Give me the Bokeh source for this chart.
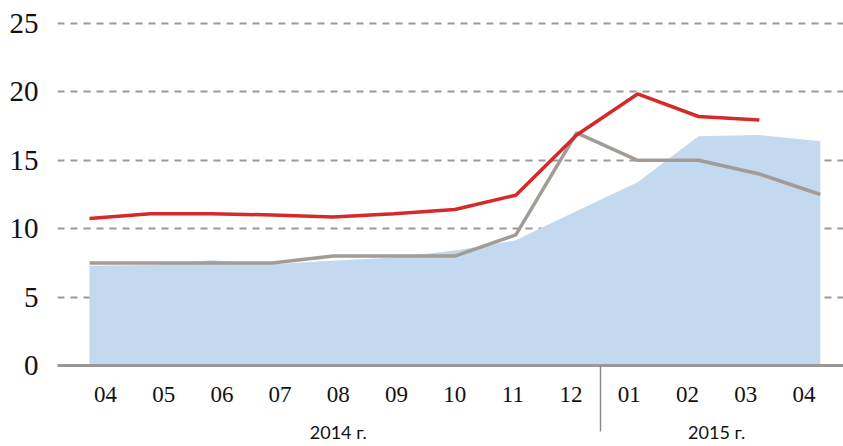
from bokeh.plotting import figure
from bokeh.models import Range1d, LinearAxis, FixedTicker
from bokeh.embed import file_html
from bokeh.resources import INLINE

# ---- data ----
months = ["04", "05", "06", "07", "08", "09", "10", "11", "12", "01", "02", "03", "04"]
years = ["2014 г.", "2015 г."]
blue_area = [7.3, 7.35, 7.7, 7.4, 7.65, 7.9, 8.4, 9.15, 11.3, 13.4, 16.75, 16.85, 16.4]
red_line = [10.75, 11.1, 11.1, 11.0, 10.85, 11.1, 11.4, 12.45, 16.85, 19.85, 18.2, 17.95]
gray_line = [7.5, 7.5, 7.5, 7.5, 8.0, 8.0, 8.0, 9.55, 17.0, 15.0, 15.0, 14.0, 12.5]
y_ticks = [0, 5, 10, 15, 20, 25]

x_all = list(range(len(months)))

p = figure(width=843, height=446, output_backend="svg", toolbar_location=None,
           x_range=Range1d(-0.5255, 12.381), y_range=Range1d(0, 25.73),
           x_axis_location=None, min_border_left=57, min_border_right=0,
           min_border_top=13, min_border_bottom=81)
p.extra_x_ranges = {"lab": Range1d(-0.8247, 12.68)}
p.outline_line_color = None
p.background_fill_color = "white"
p.border_fill_color = "white"

p.varea(x=x_all, y1=[0] * len(x_all), y2=blue_area, fill_color="#c3d9ef")
p.line(x=x_all, y=gray_line, line_color="#a39b95", line_width=3.5)
p.line(x=list(range(len(red_line))), y=red_line, line_color="#d42a2a", line_width=3.5)

# y axis
p.yaxis.ticker = FixedTicker(ticks=y_ticks)
p.yaxis.axis_line_color = None
p.yaxis.major_tick_line_color = None
p.yaxis.minor_tick_line_color = None
p.yaxis.major_label_text_font = "Liberation Serif"
p.yaxis.major_label_text_font_size = "29px"
p.yaxis.major_label_text_color = "#111111"
p.yaxis.major_label_standoff = 13
p.ygrid.ticker = FixedTicker(ticks=y_ticks)
p.ygrid.grid_line_color = "#999999"
p.ygrid.grid_line_dash = "7 6"
p.ygrid.grid_line_width = 2
p.xgrid.grid_line_color = None

# month axis (with the year separator as a long minor tick)
n = len(months)
ax_m = LinearAxis(x_range_name="lab",
                  ticker=FixedTicker(ticks=list(range(n)), minor_ticks=[(n - 4) - 0.5]),
                  major_label_overrides={i: m for i, m in enumerate(months)})
ax_m.axis_line_color = "#999999"
ax_m.axis_line_width = 3
ax_m.major_tick_line_color = None
ax_m.major_tick_out = 0
ax_m.major_tick_in = 0
ax_m.minor_tick_line_color = "#8a8a8a"
ax_m.minor_tick_line_width = 1.5
ax_m.minor_tick_out = 66
ax_m.minor_tick_in = 0
ax_m.major_label_text_font = "Liberation Serif"
ax_m.major_label_text_font_size = "23px"
ax_m.major_label_text_color = "#111111"
ax_m.major_label_standoff = 21 - 66
p.add_layout(ax_m, "below")

# year axis
y_pos = [(n - 4 - 1) / 2, (n - 4 + n - 1) / 2]
ax_y = LinearAxis(x_range_name="lab", ticker=FixedTicker(ticks=y_pos, minor_ticks=[]),
                  major_label_overrides={y_pos[0]: years[0], y_pos[1]: years[1]})
ax_y.axis_line_color = None
ax_y.major_tick_line_color = None
ax_y.minor_tick_line_color = None
ax_y.major_tick_out = 0
ax_y.major_tick_in = 0
ax_y.major_label_text_font = "Lato"
ax_y.major_label_text_font_size = "18px"
ax_y.major_label_text_color = "#111111"
ax_y.major_label_standoff = 16
p.add_layout(ax_y, "below")

open("out.html", "w").write(file_html(p, INLINE))
